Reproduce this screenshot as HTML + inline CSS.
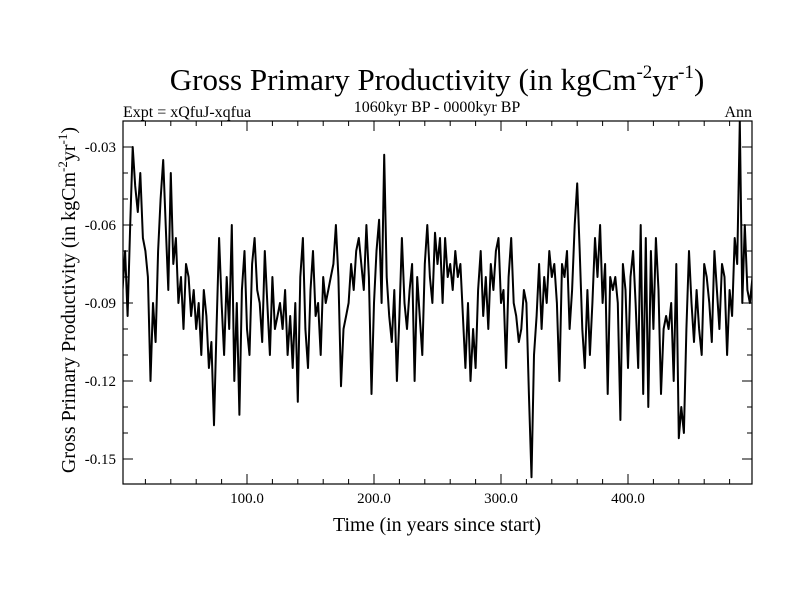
<!DOCTYPE html>
<html><head><meta charset="utf-8"><style>
body{margin:0;background:#fff}
svg{font-family:"Liberation Serif",serif}
</style></head><body>
<svg width="800" height="600" id="c">
<rect width="800" height="600" fill="#fff"/>
<defs><clipPath id="pc"><rect x="123" y="121" width="629" height="363"/></clipPath></defs>
<text x="437" y="90" font-size="31" text-anchor="middle">Gross Primary Productivity (in kgCm<tspan dy="-12" font-size="19">-2</tspan><tspan dy="12">yr</tspan><tspan dy="-12" font-size="19">-1</tspan><tspan dy="12">)</tspan></text>
<text x="123" y="117" font-size="16">Expt = xQfuJ-xqfua</text>
<text x="437" y="112" font-size="16" text-anchor="middle">1060kyr BP - 0000kyr BP</text>
<text x="752" y="117" font-size="16" text-anchor="end">Ann</text>
<text x="437" y="531" font-size="20" text-anchor="middle">Time (in years since start)</text>
<text transform="translate(75,300) rotate(-90)" font-size="20" text-anchor="middle">Gross Primary Productivity (in kgCm<tspan dy="-8" font-size="13">-2</tspan><tspan dy="8">yr</tspan><tspan dy="-8" font-size="13">-1</tspan><tspan dy="8">)</tspan></text>
<g id="axes"></g>
<path id="line" fill="none" stroke="#000" stroke-width="2" stroke-linejoin="round" clip-path="url(#pc)"/>
<rect x="123" y="121" width="629" height="363" fill="none" stroke="#000" stroke-width="1.2"/>
</svg>
<script>
const xTicks=[100,200,300,400];
const xTickLabels=["100.0","200.0","300.0","400.0"];
const yTicks=[-0.03,-0.06,-0.09,-0.12,-0.15];
const yTickLabels=["-0.03","-0.06","-0.09","-0.12","-0.15"];
const startYear=2, endYear=500;
const gpp=[
-0.085,-0.07,-0.095,-0.06,-0.03,-0.045,-0.055,-0.04,-0.065,-0.07,-0.08,-0.12,-0.09,-0.105,-0.07,-0.05,-0.035,-0.06,-0.085,-0.04,-0.075,-0.065,-0.09,-0.08,-0.1,-0.075,-0.08,-0.095,-0.085,-0.1,-0.09,-0.11,-0.085,-0.095,-0.115,-0.105,-0.137,-0.1,-0.065,-0.09,-0.11,-0.08,-0.1,-0.06,-0.12,-0.09,-0.133,-0.085,-0.07,-0.1,-0.11,-0.075,-0.065,-0.085,-0.09,-0.105,-0.07,-0.09,-0.11,-0.08,-0.1,-0.095,
-0.09,-0.1,-0.085,-0.11,-0.095,-0.115,-0.09,-0.128,-0.08,-0.065,-0.1,-0.115,-0.085,-0.07,-0.095,-0.09,-0.11,-0.08,-0.09,-0.085,-0.08,-0.075,-0.06,-0.08,-0.122,-0.1,-0.095,-0.09,-0.075,-0.085,-0.07,-0.065,-0.075,-0.085,-0.06,-0.08,-0.125,-0.09,-0.07,-0.058,-0.09,-0.033,-0.08,-0.095,-0.105,-0.085,-0.12,-0.095,-0.065,-0.09,-0.1,-0.085,-0.075,-0.12,-0.08,-0.095,-0.11,-0.075,-0.06,-0.08,-0.09,-0.063,
-0.075,-0.065,-0.09,-0.065,-0.08,-0.075,-0.085,-0.07,-0.08,-0.075,-0.095,-0.115,-0.09,-0.12,-0.1,-0.115,-0.085,-0.07,-0.095,-0.08,-0.1,-0.075,-0.085,-0.07,-0.065,-0.09,-0.085,-0.115,-0.08,-0.065,-0.09,-0.095,-0.105,-0.1,-0.085,-0.09,-0.125,-0.157,-0.11,-0.095,-0.075,-0.1,-0.08,-0.09,-0.07,-0.08,-0.075,-0.09,-0.12,-0.075,-0.08,-0.07,-0.1,-0.085,-0.06,-0.044,-0.07,-0.1,-0.115,-0.085,-0.11,-0.09,-0.065,
-0.08,-0.06,-0.09,-0.075,-0.125,-0.08,-0.085,-0.08,-0.09,-0.135,-0.075,-0.085,-0.115,-0.08,-0.07,-0.09,-0.115,-0.06,-0.125,-0.065,-0.13,-0.07,-0.1,-0.065,-0.085,-0.125,-0.1,-0.095,-0.1,-0.09,-0.12,-0.075,-0.142,-0.13,-0.14,-0.1,-0.07,-0.09,-0.105,-0.085,-0.1,-0.11,-0.075,-0.08,-0.09,-0.105,-0.07,-0.085,-0.1,-0.075,-0.08,-0.11,-0.085,-0.095,-0.065,-0.075,-0.02,-0.09,-0.06,-0.085,-0.09,-0.08,-0.085];
const L=123,R=752,T=121,B=484;
const xs=y=>120+y*1.27;
const ys=v=>147+(-0.03-v)/0.03*78;
const NS="http://www.w3.org/2000/svg";
const ax=document.getElementById('axes');
function mk(tag,a){const e=document.createElementNS(NS,tag);for(const k in a)e.setAttribute(k,a[k]);ax.appendChild(e);return e;}
for(let yr=20;yr<=500;yr+=20){
  const x=xs(yr); if(x<L||x>R)continue;
  const maj=yr%100===0, len=maj?10:5;
  const t1=mk('line',{x1:x,x2:x,y1:B,y2:B-len,stroke:'#000'});
  
  
  const t2=mk('line',{x1:x,x2:x,y1:T,y2:T+len,stroke:'#000'});
  
  
}
xTicks.forEach((t,i)=>{
  const e=mk('text',{x:xs(t),y:503,'font-size':15,'text-anchor':'middle'});
  e.textContent=xTickLabels[i];
  
  
});
for(let k=2;k<=16;k++){
  const v=-k/100, y=ys(v); if(y<T||y>B)continue;
  const maj=k%3===0, len=maj?10:5;
  const t1=mk('line',{x1:L,x2:L+len,y1:y,y2:y,stroke:'#000'});
  
  
  const t2=mk('line',{x1:R,x2:R-len,y1:y,y2:y,stroke:'#000'});
  
  
}
yTicks.forEach((t,i)=>{
  const e=mk('text',{x:116,y:ys(t)+5,'font-size':15,'text-anchor':'end'});
  e.textContent=yTickLabels[i];
  
  
});
const step=(endYear-startYear)/(gpp.length-1);
let d='';
gpp.forEach((v,i)=>{d+=(i?'L':'M')+xs(startYear+i*step).toFixed(1)+','+ys(v).toFixed(1);});
document.getElementById('line').setAttribute('d',d);
</script>
</body></html>
